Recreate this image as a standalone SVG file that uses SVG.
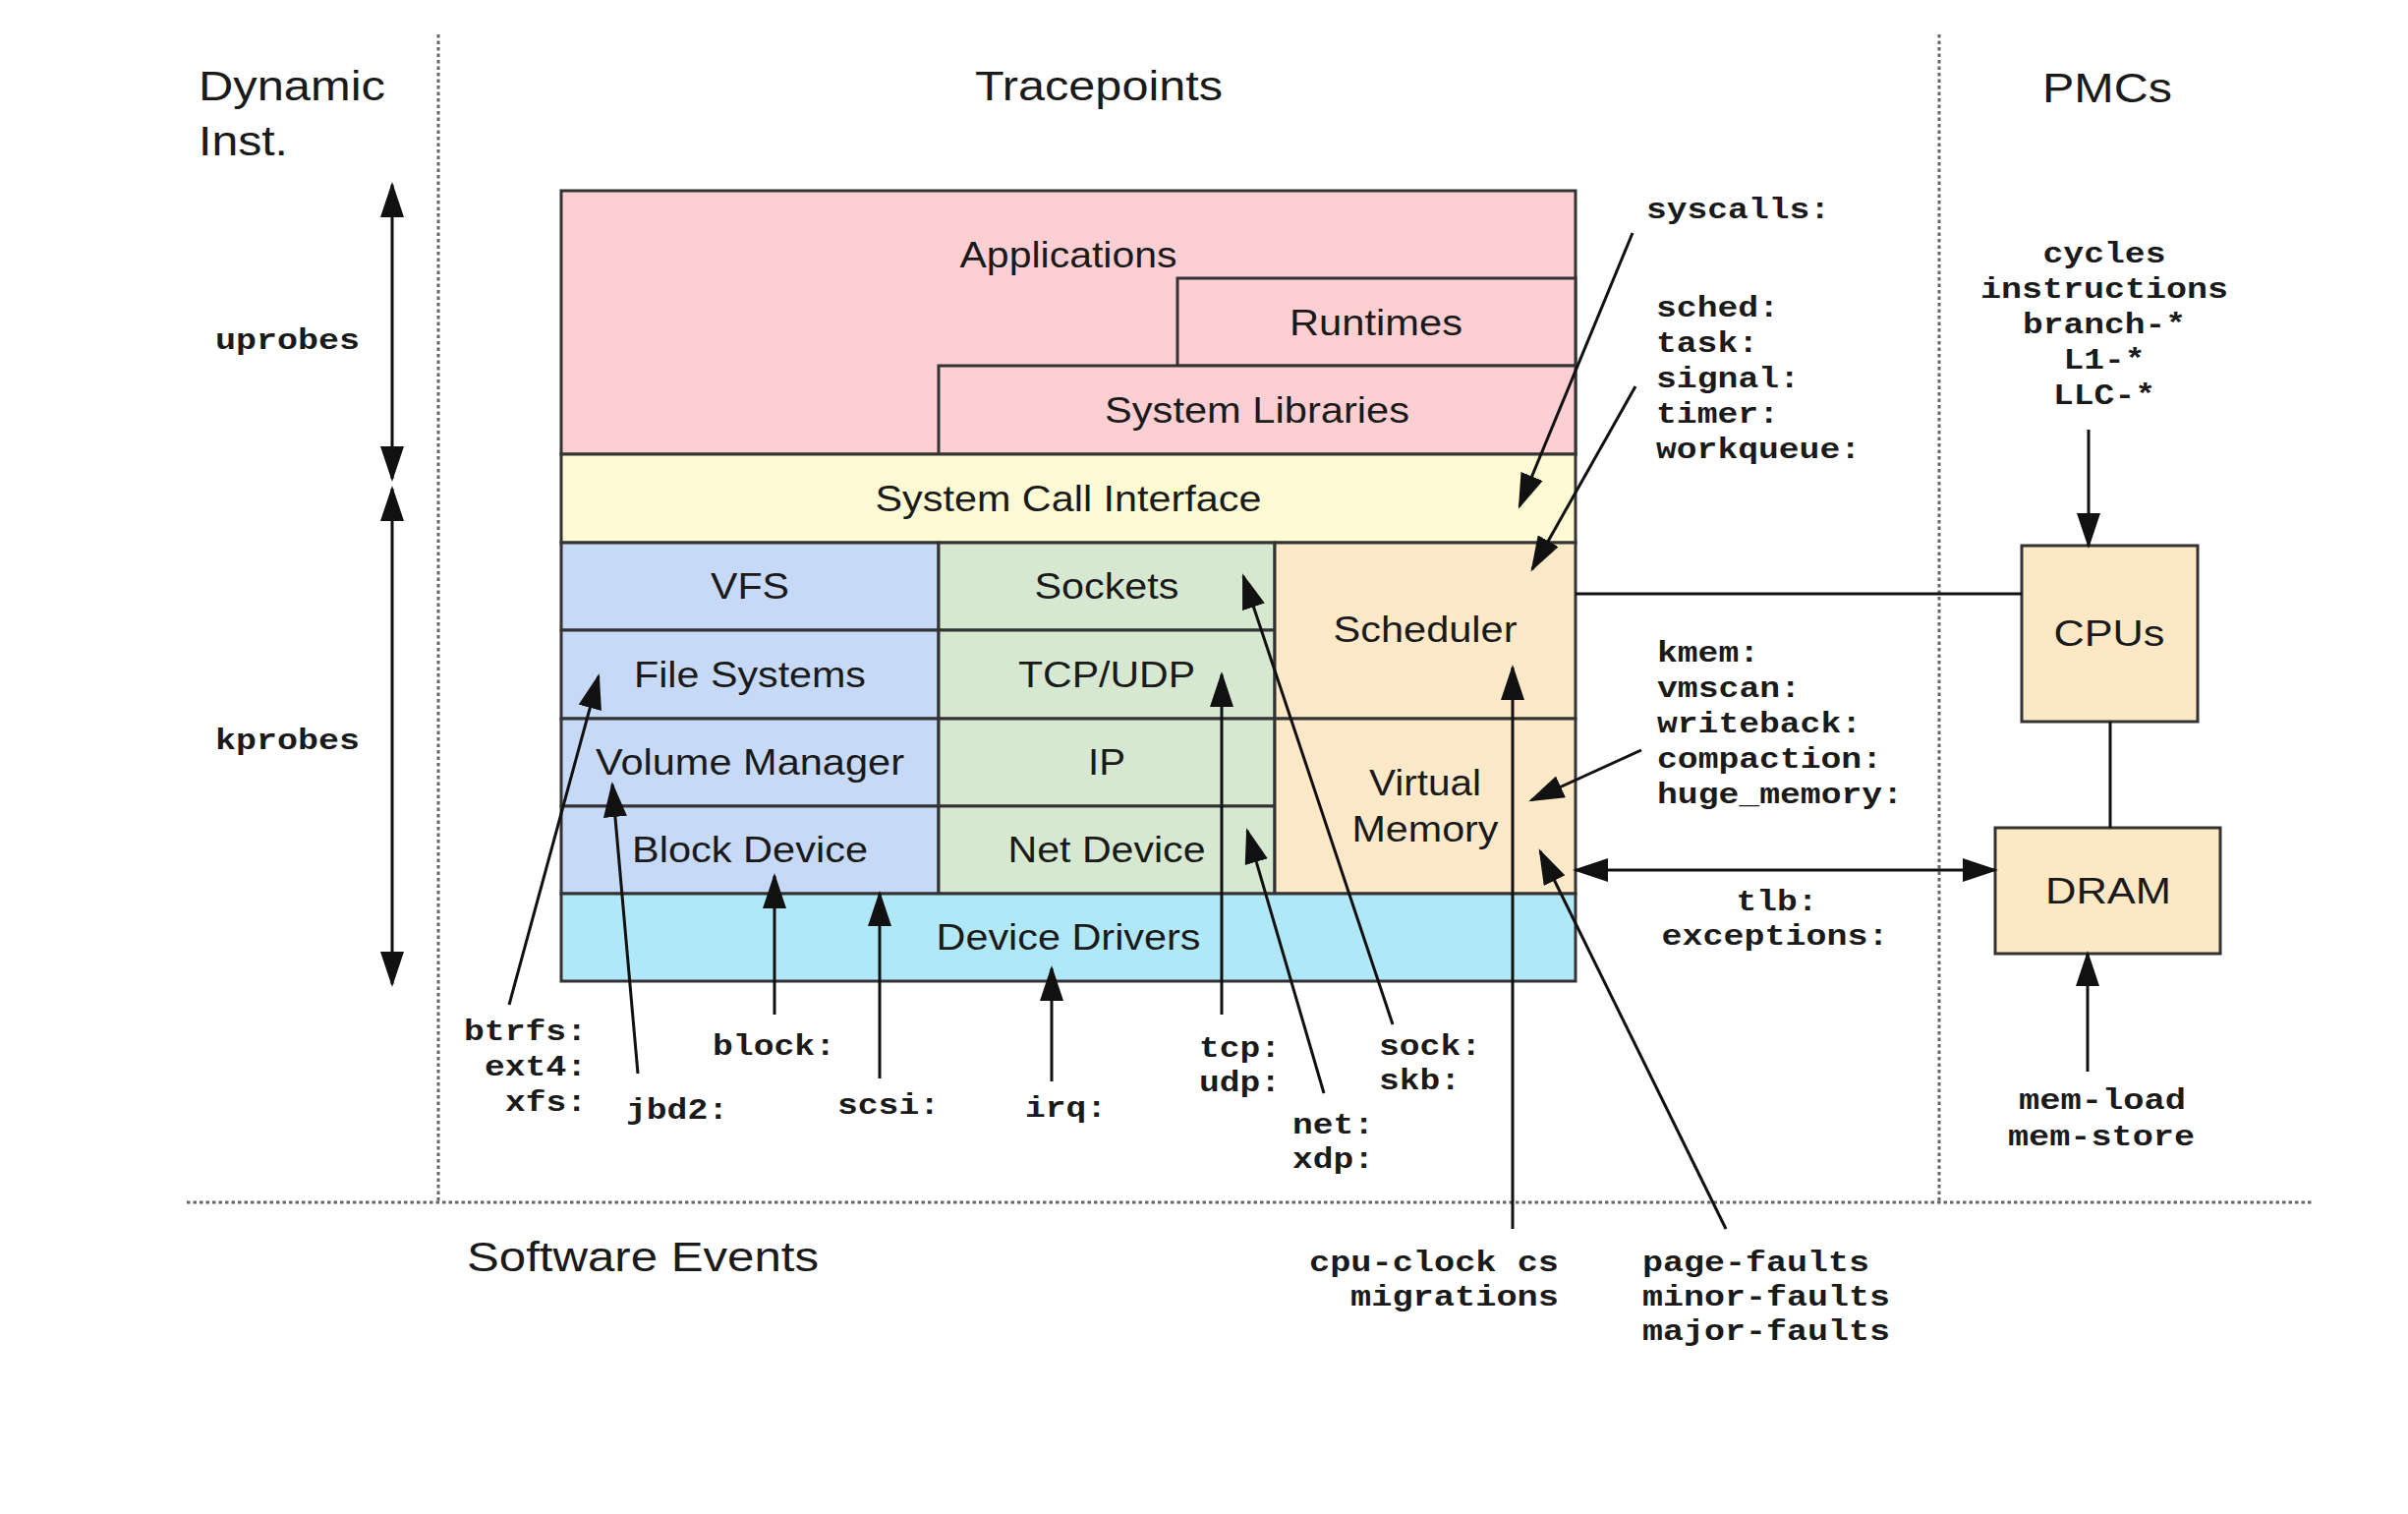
<svg xmlns="http://www.w3.org/2000/svg" width="2450" height="1540" viewBox="0 0 2450 1540">
<style>
.hdr{font-family:"Liberation Sans",Arial,sans-serif;font-size:42px;fill:#1a1a1a}
.lbl{font-family:"Liberation Sans",Arial,sans-serif;font-size:36px;fill:#1a1a1a}
.mono{font-family:"Liberation Mono","Courier New",monospace;font-weight:bold;font-size:30px;fill:#1a1a1a}
.box{stroke:#333;stroke-width:3}
.dot{stroke:#666;stroke-width:3;stroke-dasharray:3.5 3;fill:none}
.c{stroke:#111;stroke-width:3;fill:none}
.a{marker-end:url(#ah)}
.aa{marker-end:url(#ah);marker-start:url(#ah)}
.mid{text-anchor:middle}
.end{text-anchor:end}
</style>
<defs>
<marker id="ah" markerUnits="userSpaceOnUse" markerWidth="36" markerHeight="24" viewBox="0 0 36 24" refX="33" refY="12" orient="auto-start-reverse">
<path d="M0,0 L36,12 L0,24 Z" fill="#111"/>
</marker>
</defs>
<rect width="2450" height="1540" fill="#fff"/>

<g id="dividers">
<line class="dot" x1="446" y1="35" x2="446" y2="1223"/>
<line class="dot" x1="1973" y1="35" x2="1973" y2="1223"/>
<line class="dot" x1="190" y1="1223" x2="2352" y2="1223"/>
</g>

<g id="headings">
<text class="hdr" x="202" y="102" textLength="190" lengthAdjust="spacingAndGlyphs">Dynamic</text>
<text class="hdr" x="202" y="158" textLength="91" lengthAdjust="spacingAndGlyphs">Inst.</text>
<text class="hdr" x="992" y="102" textLength="252" lengthAdjust="spacingAndGlyphs">Tracepoints</text>
<text class="hdr" x="2078" y="104" textLength="132" lengthAdjust="spacingAndGlyphs">PMCs</text>
<text class="hdr" x="475" y="1293" textLength="358" lengthAdjust="spacingAndGlyphs">Software Events</text>
</g>

<g id="applications">
<rect class="box" x="571" y="194" width="1032" height="268" fill="#fdcfd2"/>
<text class="lbl mid" x="1087" y="272" textLength="221" lengthAdjust="spacingAndGlyphs">Applications</text>
</g>
<g id="runtimes">
<rect class="box" x="1198" y="283" width="405" height="89" fill="#fdcfd2"/>
<text class="lbl mid" x="1400" y="341" textLength="176" lengthAdjust="spacingAndGlyphs">Runtimes</text>
</g>
<g id="system-libraries">
<rect class="box" x="955" y="372" width="648" height="90" fill="#fdcfd2"/>
<text class="lbl mid" x="1279" y="430" textLength="310" lengthAdjust="spacingAndGlyphs">System Libraries</text>
</g>
<g id="system-call-interface">
<rect class="box" x="571" y="462" width="1032" height="90" fill="#fefad3"/>
<text class="lbl mid" x="1087" y="520" textLength="393" lengthAdjust="spacingAndGlyphs">System Call Interface</text>
</g>
<g id="vfs">
<rect class="box" x="571" y="552" width="384" height="89" fill="#c6d9f7"/>
<text class="lbl mid" x="763" y="609" textLength="80" lengthAdjust="spacingAndGlyphs">VFS</text>
</g>
<g id="file-systems">
<rect class="box" x="571" y="641" width="384" height="90" fill="#c6d9f7"/>
<text class="lbl mid" x="763" y="699" textLength="236" lengthAdjust="spacingAndGlyphs">File Systems</text>
</g>
<g id="volume-manager">
<rect class="box" x="571" y="731" width="384" height="89" fill="#c6d9f7"/>
<text class="lbl mid" x="763" y="788" textLength="314" lengthAdjust="spacingAndGlyphs">Volume Manager</text>
</g>
<g id="block-device">
<rect class="box" x="571" y="820" width="384" height="89" fill="#c6d9f7"/>
<text class="lbl mid" x="763" y="877" textLength="240" lengthAdjust="spacingAndGlyphs">Block Device</text>
</g>
<g id="sockets">
<rect class="box" x="955" y="552" width="342" height="89" fill="#d6e8d0"/>
<text class="lbl mid" x="1126" y="609" textLength="147" lengthAdjust="spacingAndGlyphs">Sockets</text>
</g>
<g id="tcp-udp">
<rect class="box" x="955" y="641" width="342" height="90" fill="#d6e8d0"/>
<text class="lbl mid" x="1126" y="699" textLength="180" lengthAdjust="spacingAndGlyphs">TCP/UDP</text>
</g>
<g id="ip">
<rect class="box" x="955" y="731" width="342" height="89" fill="#d6e8d0"/>
<text class="lbl mid" x="1126" y="788" textLength="38" lengthAdjust="spacingAndGlyphs">IP</text>
</g>
<g id="net-device">
<rect class="box" x="955" y="820" width="342" height="89" fill="#d6e8d0"/>
<text class="lbl mid" x="1126" y="877" textLength="201" lengthAdjust="spacingAndGlyphs">Net Device</text>
</g>
<g id="scheduler">
<rect class="box" x="1297" y="552" width="306" height="179" fill="#fde8c8"/>
<text class="lbl mid" x="1450" y="653" textLength="187" lengthAdjust="spacingAndGlyphs">Scheduler</text>
</g>
<g id="virtual-memory">
<rect class="box" x="1297" y="731" width="306" height="178" fill="#fde8c8"/>
<text class="lbl mid" x="1450" y="809" textLength="114" lengthAdjust="spacingAndGlyphs">Virtual</text>
<text class="lbl mid" x="1450" y="856" textLength="149" lengthAdjust="spacingAndGlyphs">Memory</text>
</g>
<g id="device-drivers">
<rect class="box" x="571" y="909" width="1032" height="89" fill="#b0e8f7"/>
<text class="lbl mid" x="1087" y="966" textLength="269" lengthAdjust="spacingAndGlyphs">Device Drivers</text>
</g>
<g id="cpus">
<rect class="box" x="2057" y="555" width="179" height="179" fill="#fde8c6"/>
<text class="lbl mid" x="2146" y="657" textLength="113" lengthAdjust="spacingAndGlyphs">CPUs</text>
</g>
<g id="dram">
<rect class="box" x="2030" y="842" width="229" height="128" fill="#fde8c6"/>
<text class="lbl mid" x="2145" y="919" textLength="128" lengthAdjust="spacingAndGlyphs">DRAM</text>
</g>

<g id="connectors">
<line class="c aa" x1="399" y1="188" x2="399" y2="487"/>
<line class="c aa" x1="399" y1="497" x2="399" y2="1001"/>
<line class="c a" x1="1661" y1="237" x2="1546" y2="515"/>
<line class="c a" x1="1664" y1="393" x2="1559" y2="579"/>
<line class="c a" x1="1670" y1="763" x2="1558" y2="814"/>
<line class="c" x1="1603" y1="604" x2="2057" y2="604"/>
<line class="c a" x1="2125" y1="437" x2="2125" y2="555"/>
<line class="c" x1="2147" y1="734" x2="2147" y2="842"/>
<line class="c aa" x1="1603" y1="885" x2="2030" y2="885"/>
<line class="c a" x1="2124" y1="1090" x2="2124" y2="970"/>
<line class="c a" x1="518" y1="1022" x2="609" y2="688"/>
<line class="c a" x1="649" y1="1092" x2="623" y2="798"/>
<line class="c a" x1="788" y1="1032" x2="788" y2="891"/>
<line class="c a" x1="895" y1="1097" x2="895" y2="909"/>
<line class="c a" x1="1070" y1="1100" x2="1070" y2="985"/>
<line class="c a" x1="1243" y1="1032" x2="1243" y2="686"/>
<line class="c a" x1="1347" y1="1112" x2="1269" y2="845"/>
<line class="c a" x1="1417" y1="1042" x2="1265" y2="586"/>
<line class="c a" x1="1539" y1="1250" x2="1539" y2="679"/>
<line class="c a" x1="1756" y1="1250" x2="1567" y2="866"/>
</g>

<g id="probe-labels">
<text class="mono" x="219" y="355" textLength="147" lengthAdjust="spacingAndGlyphs">uprobes</text>
<text class="mono" x="219" y="762" textLength="147" lengthAdjust="spacingAndGlyphs">kprobes</text>

<text class="mono" x="1675" y="222" textLength="187" lengthAdjust="spacingAndGlyphs">syscalls:</text>
<text class="mono" x="1685" y="322" textLength="125" lengthAdjust="spacingAndGlyphs">sched:</text>
<text class="mono" x="1685" y="358" textLength="104" lengthAdjust="spacingAndGlyphs">task:</text>
<text class="mono" x="1685" y="394" textLength="146" lengthAdjust="spacingAndGlyphs">signal:</text>
<text class="mono" x="1685" y="430" textLength="125" lengthAdjust="spacingAndGlyphs">timer:</text>
<text class="mono" x="1685" y="466" textLength="208" lengthAdjust="spacingAndGlyphs">workqueue:</text>

<text class="mono mid" x="2141" y="267" textLength="125" lengthAdjust="spacingAndGlyphs">cycles</text>
<text class="mono mid" x="2141" y="303" textLength="252" lengthAdjust="spacingAndGlyphs">instructions</text>
<text class="mono mid" x="2141" y="339" textLength="166" lengthAdjust="spacingAndGlyphs">branch-*</text>
<text class="mono mid" x="2141" y="375" textLength="83" lengthAdjust="spacingAndGlyphs">L1-*</text>
<text class="mono mid" x="2141" y="411" textLength="104" lengthAdjust="spacingAndGlyphs">LLC-*</text>

<text class="mono" x="1686" y="673" textLength="104" lengthAdjust="spacingAndGlyphs">kmem:</text>
<text class="mono" x="1686" y="709" textLength="146" lengthAdjust="spacingAndGlyphs">vmscan:</text>
<text class="mono" x="1686" y="745" textLength="208" lengthAdjust="spacingAndGlyphs">writeback:</text>
<text class="mono" x="1686" y="781" textLength="229" lengthAdjust="spacingAndGlyphs">compaction:</text>
<text class="mono" x="1686" y="817" textLength="250" lengthAdjust="spacingAndGlyphs">huge_memory:</text>

<text class="mono mid" x="1808" y="926" textLength="83" lengthAdjust="spacingAndGlyphs">tlb:</text>
<text class="mono mid" x="1806" y="961" textLength="231" lengthAdjust="spacingAndGlyphs">exceptions:</text>

<text class="mono end" x="597" y="1058" textLength="125" lengthAdjust="spacingAndGlyphs">btrfs:</text>
<text class="mono end" x="597" y="1094" textLength="104" lengthAdjust="spacingAndGlyphs">ext4:</text>
<text class="mono end" x="597" y="1130" textLength="83" lengthAdjust="spacingAndGlyphs">xfs:</text>
<text class="mono" x="637" y="1138" textLength="104" lengthAdjust="spacingAndGlyphs">jbd2:</text>
<text class="mono" x="725" y="1073" textLength="125" lengthAdjust="spacingAndGlyphs">block:</text>
<text class="mono" x="852" y="1133" textLength="104" lengthAdjust="spacingAndGlyphs">scsi:</text>
<text class="mono" x="1043" y="1136" textLength="83" lengthAdjust="spacingAndGlyphs">irq:</text>
<text class="mono" x="1220" y="1075" textLength="83" lengthAdjust="spacingAndGlyphs">tcp:</text>
<text class="mono" x="1220" y="1110" textLength="83" lengthAdjust="spacingAndGlyphs">udp:</text>
<text class="mono" x="1315" y="1153" textLength="83" lengthAdjust="spacingAndGlyphs">net:</text>
<text class="mono" x="1315" y="1188" textLength="83" lengthAdjust="spacingAndGlyphs">xdp:</text>
<text class="mono" x="1403" y="1073" textLength="104" lengthAdjust="spacingAndGlyphs">sock:</text>
<text class="mono" x="1403" y="1108" textLength="83" lengthAdjust="spacingAndGlyphs">skb:</text>

<text class="mono end" x="1586" y="1293" textLength="254" lengthAdjust="spacingAndGlyphs">cpu-clock cs</text>
<text class="mono end" x="1586" y="1328" textLength="212" lengthAdjust="spacingAndGlyphs">migrations</text>
<text class="mono" x="1671" y="1293" textLength="231" lengthAdjust="spacingAndGlyphs">page-faults</text>
<text class="mono" x="1671" y="1328" textLength="252" lengthAdjust="spacingAndGlyphs">minor-faults</text>
<text class="mono" x="1671" y="1363" textLength="252" lengthAdjust="spacingAndGlyphs">major-faults</text>

<text class="mono mid" x="2139" y="1128" textLength="170" lengthAdjust="spacingAndGlyphs">mem-load</text>
<text class="mono mid" x="2138" y="1165" textLength="190" lengthAdjust="spacingAndGlyphs">mem-store</text>
</g>
</svg>
